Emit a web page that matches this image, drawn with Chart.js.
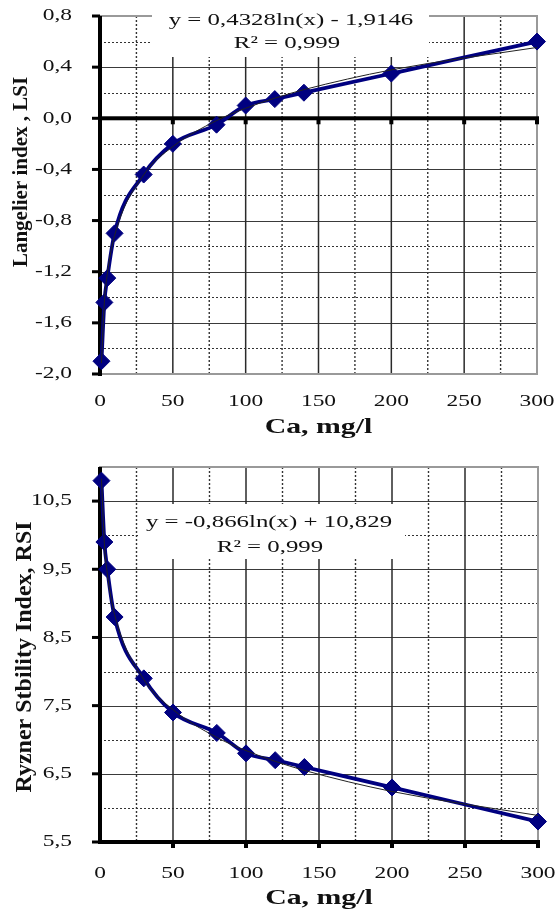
<!DOCTYPE html>
<html>
<head>
<meta charset="utf-8">
<script src="https://cdn.jsdelivr.net/npm/chart.js@4.4.1/dist/chart.umd.min.js"></script>
<style>
  body { margin: 0; background: #fff; }
  #wrap { position: relative; width: 558px; height: 913px; }
  canvas { position: absolute; left: 0; }
  #lsi { top: 0; }
  #rsi { top: 456px; }
</style>
</head>
<body>
<div id="wrap">
  <canvas id="lsi" width="558" height="456"></canvas>
  <canvas id="rsi" width="558" height="457"></canvas>
</div>
<script>
// Ca concentration, mg/l
const caValues = [1, 3, 5, 10, 30, 50, 80, 100, 120, 140, 200, 300];
// Langelier saturation index
const lsiValues = [-1.9, -1.44, -1.25, -0.9, -0.44, -0.2, -0.05, 0.1, 0.15, 0.2, 0.35, 0.6];
// Ryznar stability index
const rsiValues = [10.8, 9.9, 9.5, 8.8, 7.9, 7.4, 7.1, 6.8, 6.7, 6.6, 6.3, 5.8];

// log trendlines: y = a*ln(x) + b
const lsiFit = [0.4328, -1.9146];
const rsiFit = [-0.866, 10.829];
const lsiR2 = 0.999;
const rsiR2 = 0.999;

const xTicks = [0, 50, 100, 150, 200, 250, 300];
const lsiTicks = [-2.0, -1.6, -1.2, -0.8, -0.4, 0.0, 0.4, 0.8];
const rsiTicks = [5.5, 6.5, 7.5, 8.5, 9.5, 10.5];

const SERIF = '"Liberation Serif", "Times New Roman", serif';
const NAVY = '#000080';

function fmt(v, d) {
  return v.toFixed(d).replace('.', ',');
}

function fitLabel(fit, d) {
  const sign = fit[1] < 0 ? ' - ' : ' + ';
  return 'y = ' + fmt(fit[0], d) + 'ln(x)' + sign + fmt(Math.abs(fit[1]), d);
}

// horizontal text in the old Excel export is noticeably wider, so stretch it
function stretchText(ctx, sx) {
  const fill = ctx.fillText.bind(ctx);
  ctx.fillText = function (text, x, y, maxWidth) {
    const m = ctx.getTransform();
    if (m.b !== 0 || m.c !== 0) {
      return maxWidth === undefined ? fill(text, x, y) : fill(text, x, y, maxWidth);
    }
    ctx.save();
    ctx.translate(x, y);
    ctx.scale(sx, 1);
    fill(text, 0, 0);
    ctx.restore();
  };
}

// grid, plot border and axis lines drawn Excel style
const excelGrid = {
  id: 'excelGrid',
  beforeDatasetsDraw(chart, args, opts) {
    const { ctx, chartArea: a } = chart;
    const x = chart.scales.x, y = chart.scales.y;
    const xt = x.ticks.map(t => t.value);
    const yt = y.ticks.map(t => t.value);
    const mids = v => v.slice(1).map((t, i) => (t + v[i]) / 2);
    const hline = py => { ctx.beginPath(); ctx.moveTo(a.left, py); ctx.lineTo(a.right, py); ctx.stroke(); };
    const vline = px => { ctx.beginPath(); ctx.moveTo(px, a.top); ctx.lineTo(px, a.bottom); ctx.stroke(); };

    ctx.save();
    ctx.strokeStyle = '#333';
    ctx.setLineDash([2, 2]);
    ctx.lineWidth = 1;
    mids(yt).forEach(v => hline(Math.round(y.getPixelForValue(v)) + 0.5));
    ctx.lineWidth = 1.4;
    mids(xt).forEach(v => vline(x.getPixelForValue(v)));

    ctx.setLineDash([]);
    ctx.strokeStyle = '#3a3a3a';
    ctx.lineWidth = 1;
    yt.forEach(v => hline(Math.round(y.getPixelForValue(v)) + 0.5));
    ctx.strokeStyle = '#2a2a2a';
    ctx.lineWidth = 1.5;
    xt.forEach(v => vline(x.getPixelForValue(v)));

    // plot border
    ctx.strokeStyle = '#999';
    ctx.lineWidth = 2;
    ctx.strokeRect(a.left, a.top, a.right - a.left, a.bottom - a.top);

    // horizontal axis where it crosses
    ctx.fillStyle = '#000';
    const cy = y.getPixelForValue(opts.crossY);
    ctx.fillRect(a.left, cy - 2, a.right - a.left + 2, 4);
    xt.forEach(v => {
      if (v === 0) return;
      const px = x.getPixelForValue(v);
      ctx.fillRect(px - 2, cy, 4, 6);
    });

    // vertical axis with outer ticks
    ctx.fillRect(a.left - 2, a.top, 4, a.bottom - a.top + 2);
    yt.forEach(v => {
      const py = y.getPixelForValue(v);
      ctx.fillRect(a.left - 8, py - 1.5, 8, 3);
    });
    ctx.restore();
  }
};

// trendline equation box
const eqLabel = {
  id: 'eqLabel',
  afterDatasetsDraw(chart, args, opts) {
    const ctx = chart.ctx;
    const b = opts.box;
    ctx.save();
    ctx.fillStyle = '#fff';
    ctx.fillRect(b[0], b[1], b[2] - b[0], b[3] - b[1]);
    ctx.fillStyle = '#111';
    ctx.font = '17.5px ' + SERIF;
    ctx.textAlign = 'center';
    ctx.textBaseline = 'middle';
    opts.lines.forEach(l => ctx.fillText(l.text, l.x, l.y));
    ctx.restore();
  }
};

// rotated y axis title
const yTitle = {
  id: 'yTitle',
  afterDraw(chart, args, opts) {
    const ctx = chart.ctx;
    ctx.save();
    ctx.translate(opts.x, opts.y);
    ctx.rotate(-Math.PI / 2);
    ctx.fillStyle = '#111';
    ctx.font = 'bold ' + opts.size + 'px ' + SERIF;
    ctx.textAlign = 'center';
    ctx.textBaseline = 'middle';
    ctx.fillText(opts.text, 0, 0);
    ctx.restore();
  }
};

function points(ys) {
  return caValues.map((x, i) => ({ x: x, y: ys[i] }));
}

function trend(fit) {
  return caValues.map(x => ({ x: x, y: fit[0] * Math.log(x) + fit[1] }));
}

function noOverhang(s) {
  s.paddingTop = 0;
  s.paddingBottom = 0;
  s.paddingLeft = 0;
  s.paddingRight = 0;
}

function makeChart(id, cfg) {
  const ctx = document.getElementById(id).getContext('2d');
  stretchText(ctx, 1.42);
  return new Chart(ctx, {
    type: 'scatter',
    data: {
      datasets: [
        {
          data: trend(cfg.fit),
          showLine: true,
          borderColor: '#222',
          borderWidth: 1,
          pointRadius: 0,
          cubicInterpolationMode: 'monotone',
          clip: false,
          order: 0
        },
        {
          data: points(cfg.values),
          showLine: true,
          borderColor: NAVY,
          borderWidth: 3.8,
          backgroundColor: NAVY,
          pointStyle: 'rectRot',
          pointRadius: 8.5,
          pointBorderWidth: 1,
          pointBorderColor: NAVY,
          cubicInterpolationMode: 'monotone',
          clip: false,
          order: 1
        }
      ]
    },
    options: {
      responsive: false,
      animation: false,
      devicePixelRatio: 1,
      layout: { padding: { top: cfg.top, right: cfg.right, left: 0, bottom: 0 } },
      plugins: {
        legend: { display: false },
        tooltip: { enabled: false },
        excelGrid: { crossY: cfg.crossY },
        eqLabel: cfg.eq,
        yTitle: cfg.yTitle
      },
      scales: {
        x: {
          type: 'linear',
          min: 0,
          max: 300,
          grid: { display: false },
          border: { display: false },
          afterBuildTicks: s => { s.ticks = xTicks.map(v => ({ value: v })); },
          afterFit: s => { s.height = cfg.xHeight; noOverhang(s); },
          ticks: {
            autoSkip: false,
            maxRotation: 0,
            padding: cfg.tickPad,
            color: '#111',
            font: { family: SERIF, size: 16.5 }
          },
          title: {
            display: true,
            text: 'Ca, mg/l',
            color: '#111',
            padding: { top: 0, bottom: cfg.titlePad },
            font: { family: SERIF, size: 21, weight: 'bold' }
          }
        },
        y: {
          min: cfg.min,
          max: cfg.max,
          grid: { display: false },
          border: { display: false },
          afterBuildTicks: s => { s.ticks = cfg.ticks.map(v => ({ value: v })); },
          afterFit: s => { s.width = 100; noOverhang(s); },
          ticks: {
            padding: 20,
            color: '#111',
            font: { family: SERIF, size: 16.5 },
            callback: v => fmt(v, 1)
          }
        }
      }
    },
    plugins: [excelGrid, eqLabel, yTitle]
  });
}

makeChart('lsi', {
  values: lsiValues,
  fit: lsiFit,
  ticks: lsiTicks,
  min: -2.0,
  max: 0.8,
  crossY: 0,
  top: 16,
  right: 21,
  xHeight: 82,
  tickPad: 10,
  titlePad: 16,
  eq: {
    box: [152, 2, 429, 57],
    lines: [
      { text: fitLabel(lsiFit, 4), x: 291, y: 20 },
      { text: 'R² = ' + fmt(lsiR2, 3), x: 287, y: 43 }
    ]
  },
  yTitle: { text: 'Langelier index , LSI', size: 21, x: 22, y: 172 }
});

makeChart('rsi', {
  values: rsiValues,
  fit: rsiFit,
  ticks: rsiTicks,
  min: 5.5,
  max: 11.0,
  crossY: 5.5,
  top: 11,
  right: 20,
  xHeight: 71,
  tickPad: 14,
  titlePad: 2,
  eq: {
    box: [138, 48, 405, 103],
    lines: [
      { text: fitLabel(rsiFit, 3), x: 269, y: 66 },
      { text: 'R² = ' + fmt(rsiR2, 3), x: 270, y: 91 }
    ]
  },
  yTitle: { text: 'Ryzner Stbility Index, RSI', size: 24, x: 25, y: 201 }
});
</script>
</body>
</html>
